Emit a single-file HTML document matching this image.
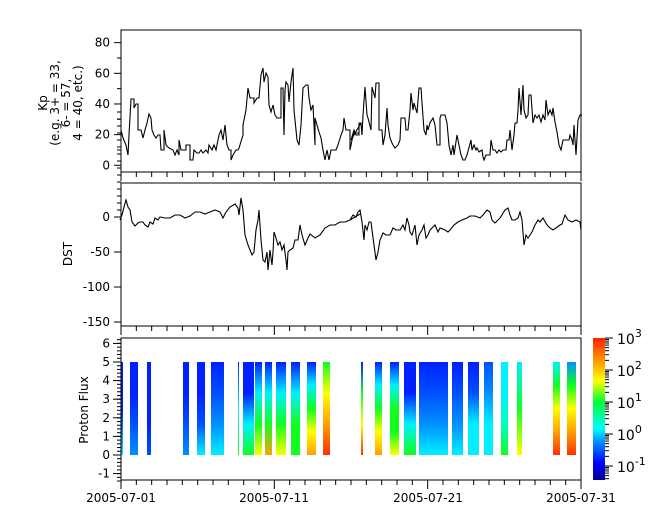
<!DOCTYPE html><html><head><meta charset="utf-8"><style>
body{margin:0;background:#fff;width:665px;height:523px;overflow:hidden}
svg text{font-family:"DejaVu Sans","Liberation Sans",sans-serif;font-size:12px;fill:#000}
</style></head><body>
<svg id="s" width="665" height="523" xmlns="http://www.w3.org/2000/svg">
<defs>
<linearGradient id="cb" x1="0" y1="1" x2="0" y2="0">
<stop offset="0" stop-color="#000090"/><stop offset="0.12" stop-color="#0000ff"/><stop offset="0.3" stop-color="#00b0ff"/><stop offset="0.36" stop-color="#00ffff"/><stop offset="0.55" stop-color="#00ff30"/><stop offset="0.7" stop-color="#ffff00"/><stop offset="0.85" stop-color="#ff9000"/><stop offset="1" stop-color="#ff2000"/>
</linearGradient>
</defs>
<g id="g"></g>
<rect x="593" y="338" width="12" height="142" fill="url(#cb)"/>
<rect x="121" y="30" width="460" height="142" fill="none" stroke="#000"/>
<rect x="121" y="183" width="460" height="143" fill="none" stroke="#000"/>
<rect x="121" y="338" width="460" height="142" fill="none" stroke="#000"/>
<text x="47" y="103" text-anchor="middle" transform="rotate(-90 47 103)">Kp</text>
<text x="59" y="103" text-anchor="middle" transform="rotate(-90 59 103)">(e.g. 3+ = 33,</text>
<text x="70" y="103" text-anchor="middle" transform="rotate(-90 70 103)">6- = 57,</text>
<text x="82" y="103" text-anchor="middle" transform="rotate(-90 82 103)">4 = 40, etc.)</text>
<text x="72" y="254" text-anchor="middle" transform="rotate(-90 72 254)">DST</text>
<text x="88" y="410" text-anchor="middle" transform="rotate(-90 88 410)">Proton Flux</text>
<text x="121" y="502" text-anchor="middle">2005-07-01</text>
<text x="274" y="502" text-anchor="middle">2005-07-11</text>
<text x="428" y="502" text-anchor="middle">2005-07-21</text>
<text x="581" y="502" text-anchor="middle">2005-07-31</text>
</svg>
<script>
var g=document.getElementById('g'),h='';
function L(a,b,c,d){h+='<line x1="'+a+'" y1="'+b+'" x2="'+c+'" y2="'+d+'" stroke="#000"/>';}
function T(x,y,t,a){h+='<text x="'+x+'" y="'+y+'" text-anchor="'+(a||'end')+'">'+t+'</text>';}
[172,326,480].forEach(function(yb){for(var d=0;d<=30;d++){var x=121+d*460/30;var m=(d%10==0);L(x,yb,x,yb+(m?9:5));}});
for(var v=0;v<=85;v+=10){var y=165.3-v*1.533;L(121,y,v%20==0?114:117,y);if(v%20==0)T(110,y+4,v);}
for(var v=0;v>=-155;v-=10){var y=217-v*-0.7;L(121,y,117,y);}
for(var v=0;v>=-150;v-=50){var y=217+(-v)*0.7;L(121,y,114,y);T(110,y+4,v==0?'0':'-'+(-v));}
for(var v=-1.4;v<=6.3;v+=0.2){var y=455-v*18.6;L(121,y,117,y);}
for(var v=-1;v<=6;v++){var y=455-v*18.6;L(121,y,113,y);T(110,y+4,v);}
for(var e=-2;e<=3;e++){for(var k=1;k<10;k++){var lv=e+Math.log10(k);if(lv< -1.44||lv>3)continue;var y=338+(3-lv)*32;L(605,y,k==1?613:609,y);}}
[3,2,1,0,-1].forEach(function(e){var y=338+(3-e)*32;h+='<text x="617" y="'+(y+6)+'" style="font-size:14px" text-anchor="start">10<tspan dy="-7" style="font-size:11px">'+e+'</tspan></text>';});
var C={b:'#0020ff',B:'#0050ff',l:'#0090ff',c:'#00f0ff',C:'#00ffc0',g:'#10ff20',y:'#ffff00',o:'#ffa000',r:'#ff3000'};
var S=[[121,123,'bbc'],[130,138,'bbBl'],[147,151,'bbbB'],[183,189,'bbBl'],[197,205,'bbBc'],[211,224,'bBlc'],[238,239,'bcg'],[243,254,'bbcg'],[255,262,'bcgy'],[265,272,'bcgo'],[276,286,'bcgy'],[291,300,'bcgg'],[307,316,'bcgyo'],[323,330,'gyor'],[361,363,'bgyr'],[375,382,'bcgyo'],[390,399,'bcggy'],[404,416,'bbcg'],[419,448,'bBlc'],[452,463,'bBlc'],[468,479,'bBcc'],[484,493,'Blcc'],[501,508,'ccCg'],[517,522,'cgy'],[553,560,'cgyor'],[567,576,'lgyor']];
S.forEach(function(s,i){var id='p'+i,st='';for(var j=0;j<s[2].length;j++)st+='<stop offset="'+(j/(s[2].length-1))+'" stop-color="'+C[s[2][j]]+'"/>';
h+='<linearGradient id="'+id+'" x1="0" y1="0" x2="0" y2="1">'+st+'</linearGradient><rect x="'+s[0]+'" y="362" width="'+(s[1]-s[0])+'" height="93" fill="url(#'+id+')"/>';});
var k1=[[0,70],[2,78],[5,85],[7,95],[8,75],[10,39],[13,39],[13,48],[15,44],[17,44],[17,70],[20,70],[22,78],[24,70],[26,63],[28,54],[30,58],[31,70],[33,75],[35,78],[37,75],[39,75],[40,90],[43,90],[43,70],[45,85],[48,88],[52,90],[54,95],[56,90],[58,95],[58,80],[60,90],[65,90],[65,85],[69,85],[69,100],[72,100],[73,90],[76,93],[78,93],[80,90],[82,93],[85,90],[87,93],[88,85],[91,90],[93,85],[95,90],[98,75],[100,70],[102,80],[104,65],[106,85],[108,90],[110,90],[110,100],[112,95],[115,90],[117,90],[118,88],[122,75],[122,65],[125,50],[127,28],[129,38],[133,38],[133,43],[136,38],[138,38],[140,15],[142,8],[143,22],[145,13],[147,17],[148,45],[150,52],[152,45],[154,55],[156,58],[160,58],[160,28],[162,28],[163,75],[164,30],[165,22],[167,25],[168,42],[170,22],[172,8],[173,50],[176,80],[178,85],[180,65],[182,28],[185,25],[187,25],[188,38],[190,50],[192,45],[194,85],[194,58],[196,65],[198,72],[200,78],[202,90],[204,100],[206,90],[208,100],[210,90],[213,90],[215,90],[217,85],[220,75],[222,70],[223,58],[225,70],[229,70],[229,90],[231,80],[233,73],[238,73],[238,63],[240,63]];
var k2=[[0,80],[3,70],[5,75],[8,75],[8,63],[10,63],[11,75],[12,55],[14,27],[16,55],[17,58],[20,70],[21,27],[24,38],[25,23],[28,23],[28,70],[31,70],[32,85],[34,75],[36,48],[37,65],[39,78],[41,83],[42,85],[44,88],[47,85],[49,80],[50,58],[54,58],[55,70],[57,70],[59,50],[60,33],[62,50],[63,43],[66,53],[68,28],[70,28],[71,43],[73,70],[75,75],[76,65],[77,70],[79,63],[82,58],[84,65],[86,85],[89,85],[89,58],[90,55],[94,55],[96,63],[98,85],[100,95],[102,85],[103,95],[106,75],[108,85],[110,95],[112,100],[114,100],[116,95],[120,80],[121,90],[123,85],[125,90],[126,88],[128,92],[131,90],[132,97],[133,100],[135,95],[139,95],[140,80],[142,90],[144,90],[146,93],[148,90],[150,92],[152,90],[155,90],[156,80],[158,80],[159,70],[161,90],[163,75],[164,63],[166,63],[167,50],[168,28],[170,55],[172,25],[173,50],[175,58],[177,55],[178,35],[180,35],[182,63],[184,55],[186,58],[188,55],[190,62],[192,55],[194,60],[195,40],[197,55],[199,50],[201,55],[202,48],[204,62],[206,72],[208,85],[210,90],[212,80],[218,80],[219,75],[221,80],[222,85],[223,65],[225,95],[227,60],[229,55],[231,55]];
function P(a,dx,dy){return a.map(function(p){return (p[0]+dx)+','+(p[1]+dy)}).join(' ');}
h+='<polyline points="'+P(k1,121,60)+' '+P(k2,351,60)+'" fill="none" stroke="#000" stroke-width="1.1"/>';
var d1=[[0,30],[2,25],[4,17],[6,10],[8,17],[10,20],[12,32],[15,36],[18,33],[20,32],[23,32],[25,35],[28,37],[30,32],[33,34],[35,28],[38,30],[40,27],[45,28],[50,28],[55,25],[60,25],[65,28],[70,26],[75,22],[80,22],[85,24],[90,22],[95,20],[100,22],[103,28],[106,22],[110,17],[115,14],[118,18],[119,25],[121,8],[123,20],[125,45],[128,55],[130,60],[132,65],[134,62],[136,40],[138,30],[139,20],[141,50],[143,70],[145,72],[147,62],[148,80],[150,60],[151,68],[152,75],[153,62],[154,42],[156,48],[158,55],[160,52],[162,60],[164,55],[166,70],[167,80],[168,62],[170,60],[173,58],[175,50],[178,50],[180,35],[182,45],[185,55],[188,48],[190,44],[195,48],[200,45],[205,38],[210,35],[215,35],[220,32],[225,32],[230,30],[235,27],[240,24]];
var d2=[[0,30],[3,25],[6,27],[8,22],[10,20],[12,32],[14,50],[15,35],[17,40],[19,32],[21,32],[22,40],[24,55],[26,70],[28,62],[30,50],[33,43],[36,45],[40,45],[43,38],[46,40],[50,40],[53,35],[55,40],[57,28],[59,35],[60,42],[62,45],[65,35],[67,55],[69,45],[72,40],[74,35],[76,48],[78,45],[80,40],[85,35],[88,42],[90,38],[95,40],[98,42],[100,40],[104,35],[108,32],[112,30],[117,28],[120,26],[125,26],[130,28],[133,25],[137,20],[140,22],[142,30],[145,33],[150,28],[155,20],[158,18],[160,25],[162,30],[165,30],[168,28],[170,22],[172,30],[174,55],[176,45],[178,48],[180,45],[182,42],[185,35],[188,30],[190,32],[193,28],[197,35],[200,38],[203,40],[206,38],[210,35],[212,34],[215,25],[218,30],[222,32],[226,30],[230,32],[231,40]];
h+='<polyline points="'+P(d1,120,190)+' '+P(d2,350,190)+'" fill="none" stroke="#000" stroke-width="1.1"/>';
g.innerHTML=h;
</script>
</body></html>
